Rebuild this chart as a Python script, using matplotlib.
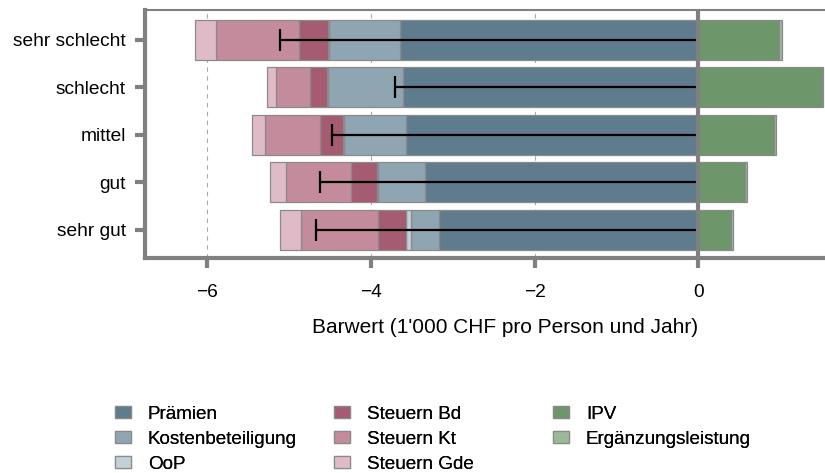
import matplotlib.pyplot as plt
import numpy as np

plt.rcParams['font.family'] = ['Liberation Sans', 'DejaVu Sans']

# Data (1'000 CHF per person and year)
categories = ['sehr gut', 'gut', 'mittel', 'schlecht', 'sehr schlecht']
praemien = [3.17, 3.34, 3.57, 3.61, 3.64]
kostenbeteiligung = [0.34, 0.58, 0.76, 0.92, 0.87]
oop = [0.06, 0.01, 0.01, 0.01, 0.01]
steuern_bd = [0.35, 0.32, 0.28, 0.20, 0.36]
steuern_kt = [0.94, 0.79, 0.67, 0.42, 1.01]
steuern_gde = [0.25, 0.20, 0.17, 0.11, 0.26]
ipv = [0.40, 0.57, 0.93, 1.51, 0.99]
ergaenzung = [0.02, 0.03, 0.02, 0.02, 0.03]
barwert = [-4.67, -4.62, -4.48, -3.71, -5.11]

neg_series = [('Prämien', praemien, '#5f7c8e'),
              ('Kostenbeteiligung', kostenbeteiligung, '#8fa5b2'),
              ('OoP', oop, '#c3d0d8'),
              ('Steuern Bd', steuern_bd, '#a55c72'),
              ('Steuern Kt', steuern_kt, '#c48b9c'),
              ('Steuern Gde', steuern_gde, '#dfbbc7')]
pos_series = [('IPV', ipv, '#6e966b'),
              ('Ergänzungsleistung', ergaenzung, '#9bb997')]

fig = plt.figure(figsize=(8.25, 4.73), dpi=100)
ax = fig.add_axes([0.176, 0.455, 0.824, 0.524])

y = np.arange(len(categories))
grey = '#808080'

for xv in [-6, -4, -2]:
    ax.axvline(xv, color='#aaaaaa', lw=0.8, ls=(0, (4, 4)), zorder=0)

handles = []
cum = np.zeros(len(categories))
for name, vals, col in neg_series:
    vals = np.array(vals)
    h = ax.barh(y, -vals, left=-cum, height=0.84, color=col,
                edgecolor='#8a8a8a', linewidth=0.9, label=name, zorder=2)
    handles.append(h)
    cum += vals
cum = np.zeros(len(categories))
for name, vals, col in pos_series:
    vals = np.array(vals)
    h = ax.barh(y, vals, left=cum, height=0.84, color=col,
                edgecolor='#8a8a8a', linewidth=0.9, label=name, zorder=2)
    handles.append(h)
    cum += vals

# net present value as whisker from zero
ax.errorbar(barwert, y, xerr=[np.zeros(len(y)), -np.array(barwert)],
            fmt='none', ecolor='black', elinewidth=1.6, capsize=0, zorder=3)
ax.errorbar(barwert, y, yerr=0.23, fmt='none', ecolor='black',
            elinewidth=1.6, capsize=0, zorder=3)

ax.axvline(0, color=grey, lw=3, zorder=4)

ax.set_xlim(-6.76, 1.55)
ax.set_ylim(-0.59, 4.63)
ax.set_yticks(y)
ax.set_yticklabels(categories, fontsize=13.8)
ax.set_xticks([-6, -4, -2, 0])
ax.set_xticklabels(['\u22126', '\u22124', '\u22122', '0'], fontsize=13.8)
ax.tick_params(axis='both', color=grey, width=3, length=7)
ax.tick_params(axis='x', pad=12)
ax.tick_params(axis='y', pad=7)

for s in ['left', 'bottom']:
    ax.spines[s].set_color(grey)
    ax.spines[s].set_linewidth(3)
ax.spines['top'].set_color(grey)
ax.spines['top'].set_linewidth(1.5)
ax.spines['right'].set_visible(False)

ax.set_xlabel("Barwert (1'000 CHF pro Person und Jahr)", fontsize=15,
              va='center')
ax.xaxis.set_label_coords(0.529, -0.28)

# legend in three columns placed separately
col_x = [0.139, 0.405, 0.670]
groups = [handles[0:3], handles[3:6], handles[6:8]]
for cx, grp in zip(col_x, groups):
    leg = fig.legend(handles=grp, loc='upper left', bbox_to_anchor=(cx, 0.142),
                     ncol=1, frameon=False, fontsize=13.6, handlelength=0.85,
                     handleheight=0.64, labelspacing=0.42,
                     handletextpad=0.9, borderaxespad=0, borderpad=0)
    fig.add_artist(leg)

fig.savefig('out.png', dpi=100)
